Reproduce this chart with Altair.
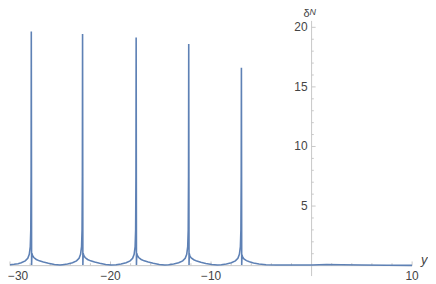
import altair as alt
import pandas as pd

# curve points (x, delta_N)
X = [-30, -29.6, -29.2, -28.88, -28.48, -28.23, -28.08, -27.98, -27.93, -27.90, -27.88,
     -27.85, -27.82, -27.76, -27.63, -27.38, -27.08, -26.68, -26.18, -25.58, -25.03,
     -24.78, -24.28, -23.78, -23.38, -23.13, -22.98, -22.88, -22.83, -22.80, -22.78,
     -22.75, -22.72, -22.66, -22.53, -22.28, -21.98, -21.58, -21.08, -20.48, -19.93,
     -19.45, -18.95, -18.45, -18.05, -17.8, -17.65, -17.55, -17.5, -17.47, -17.45,
     -17.42, -17.39, -17.33, -17.2, -16.95, -16.65, -16.25, -15.75, -15.15, -14.6,
     -14.22, -13.72, -13.22, -12.82, -12.57, -12.42, -12.32, -12.27, -12.24, -12.22,
     -12.19, -12.16, -12.10, -11.97, -11.72, -11.42, -11.02, -10.52, -9.92, -9.37,
     -8.98, -8.48, -7.98, -7.58, -7.33, -7.18, -7.08, -7.03, -7.0, -6.98,
     -6.95, -6.92, -6.86, -6.73, -6.48, -6.18, -5.78, -5.23, -4.53, -3.53,
     -2.0, 0.0, 1.5, 3.0, 5.0, 7.5, 10.0]
Y = [0.08, 0.11, 0.16, 0.24, 0.4, 0.62, 0.95, 1.6, 3.0, 7.5, 19.65,
     0.05, 1.05, 0.85, 0.68, 0.52, 0.4, 0.3, 0.2, 0.1, 0.05,
     0.08, 0.14, 0.24, 0.4, 0.62, 0.95, 1.6, 3.0, 7.5, 19.45,
     0.05, 1.05, 0.85, 0.68, 0.52, 0.4, 0.3, 0.2, 0.1, 0.05,
     0.08, 0.14, 0.24, 0.4, 0.62, 0.95, 1.6, 3.0, 7.5, 19.15,
     0.05, 1.05, 0.85, 0.68, 0.52, 0.4, 0.3, 0.2, 0.1, 0.05,
     0.08, 0.14, 0.24, 0.4, 0.62, 0.95, 1.6, 3.0, 7.5, 18.6,
     0.05, 1.0, 0.8, 0.64, 0.5, 0.38, 0.28, 0.18, 0.1, 0.05,
     0.08, 0.14, 0.24, 0.4, 0.62, 0.95, 1.6, 3.0, 7.5, 16.6,
     0.05, 0.9, 0.72, 0.56, 0.42, 0.32, 0.22, 0.14, 0.08, 0.05,
     0.05, 0.06, 0.09, 0.08, 0.05, 0.03, 0.02]

X_TICKS = [-30, -20, -10, 10]
X_TICK_LABELS = ["\u221230", "\u221220", "\u221210", "10"]
X_MINOR = [-28, -26, -24, -22, -18, -16, -14, -12, -8, -6, -4, -2, 2, 4, 6, 8]
Y_TICKS = [5, 10, 15, 20]
Y_TICK_LABELS = ["5", "10", "15", "20"]
Y_MINOR = [1, 2, 3, 4, 6, 7, 8, 9, 11, 12, 13, 14, 16, 17, 18, 19]

XDOM = [-30, 10]
YDOM = [-0.875, 20.54]

curve = pd.DataFrame({"x": X, "y": Y})
xs = alt.Scale(domain=XDOM, nice=False, zero=False)
ys = alt.Scale(domain=YDOM, nice=False, zero=False)
AXC = "#c8c8c8"
TXC = "#444444"
FONT = "Liberation Sans"


def X_(f):
    return alt.X(f, type="quantitative", scale=xs, axis=None)


def Y_(f):
    return alt.Y(f, type="quantitative", scale=ys, axis=None)


xaxis = alt.Chart(pd.DataFrame({"a": [XDOM[0]], "b": [XDOM[1]], "y": [0.0]})).mark_rule(
    color=AXC, strokeWidth=1).encode(x=X_("a"), x2="b:Q", y=Y_("y"))
yaxis = alt.Chart(pd.DataFrame({"a": [YDOM[0]], "b": [YDOM[1]], "x": [0.0]})).mark_rule(
    color=AXC, strokeWidth=1).encode(y=Y_("a"), y2="b:Q", x=X_("x"))

ytick_df = pd.DataFrame({"v": Y_TICKS, "lab": Y_TICK_LABELS})
yminor_df = pd.DataFrame({"v": Y_MINOR})
xtick_df = pd.DataFrame({"v": X_TICKS, "lab": X_TICK_LABELS})
xminor_df = pd.DataFrame({"v": X_MINOR})

ymaj = alt.Chart(ytick_df).mark_rule(color=AXC).transform_calculate(
    a="0", b="0.4").encode(y=Y_("v"), x=X_("a"), x2="b:Q")
ymin = alt.Chart(yminor_df).mark_rule(color=AXC).transform_calculate(
    a="0", b="0.22").encode(y=Y_("v"), x=X_("a"), x2="b:Q")
xmaj = alt.Chart(xtick_df).mark_rule(color=AXC).transform_calculate(
    a="0", b="0.35").encode(x=X_("v"), y=Y_("a"), y2="b:Q")
xmin = alt.Chart(xminor_df).mark_rule(color=AXC).transform_calculate(
    a="0", b="0.2").encode(x=X_("v"), y=Y_("a"), y2="b:Q")

ylab = alt.Chart(ytick_df).mark_text(
    align="right", baseline="middle", dx=-4, dy=0, fontSize=12, font=FONT, color=TXC
).transform_calculate(a="0").encode(y=Y_("v"), x=X_("a"), text="lab:N")
xlab_mid = alt.Chart(xtick_df.iloc[1:].reset_index(drop=True)).mark_text(
    align="center", baseline="middle", dy=10, fontSize=12, font=FONT, color=TXC
).transform_calculate(a="0").encode(x=X_("v"), y=Y_("a"), text="lab:N")
xlab_first = alt.Chart(xtick_df.iloc[:1].reset_index(drop=True)).mark_text(
    align="left", baseline="middle", dx=-2, dy=10, fontSize=12, font=FONT, color=TXC
).transform_calculate(a="0").encode(x=X_("v"), y=Y_("a"), text="lab:N")

line = alt.Chart(curve).mark_line(color="#5E81B5", strokeWidth=1.6, clip=True).encode(
    x=X_("x"), y=Y_("y"))

lab_df = pd.DataFrame({"t": ["\u03b4"], "x": [0.0], "y": [YDOM[1]]})
delta = alt.Chart(lab_df).mark_text(
    align="center", baseline="alphabetic", dx=-5, dy=-3.5, fontSize=11, font=FONT, color=TXC
).encode(x=X_("x"), y=Y_("y"), text="t:N")
sup_df = pd.DataFrame({"t": ["N"], "x": [0.0], "y": [YDOM[1]]})
sup = alt.Chart(sup_df).mark_text(
    align="left", baseline="alphabetic", dx=-2, dy=-6, fontSize=9, fontStyle="italic",
    font=FONT, color=TXC).encode(x=X_("x"), y=Y_("y"), text="t:N")
yl_df = pd.DataFrame({"t": ["y"], "x": [XDOM[1]], "y": [0.0]})
ylabel = alt.Chart(yl_df).mark_text(
    align="left", baseline="alphabetic", dx=9, dy=-1.5, fontSize=13, fontStyle="italic",
    font=FONT, color=TXC).encode(x=X_("x"), y=Y_("y"), text="t:N")

chart = alt.layer(
    xaxis, yaxis, ymin, ymaj, xmin, xmaj, ylab, xlab_mid, xlab_first, line, delta, sup, ylabel
).properties(
    width=405, height=257,
    padding={"left": 2, "top": 12, "right": 16, "bottom": 6},
    autosize=alt.AutoSizeParams(type="none"),
).configure_view(stroke=None)

chart.save("out.html", embed_options={"renderer": "svg", "actions": False})
